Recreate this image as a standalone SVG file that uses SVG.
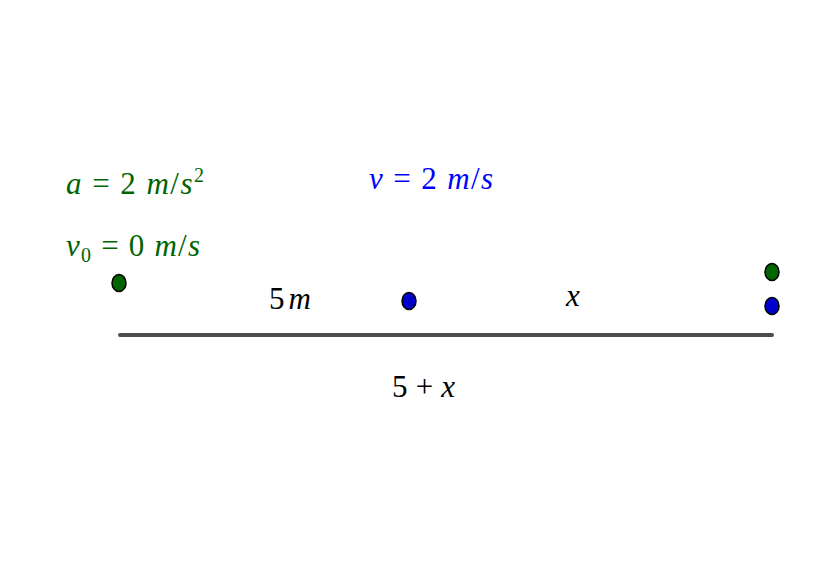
<svg xmlns="http://www.w3.org/2000/svg" width="840" height="561" viewBox="0 0 840 561">
<style>
.t{font-family:"Liberation Serif","DejaVu Serif",serif;font-size:31px}
.i{font-style:italic}
.g{fill:#006400}
.b{fill:#0000ff}
.k{fill:#000}
.pg{fill:#006400;stroke:#000;stroke-width:1.5}
.pb{fill:#0000cc;stroke:#000;stroke-width:1.5}
</style>
<rect width="840" height="561" fill="#fff"/>
<g id="connectors">
<line x1="120" y1="335" x2="772" y2="335" stroke="#4d4d4d" stroke-width="4" stroke-linecap="round"/>
</g>
<g id="label-a"><text class="t g" x="66" y="194" textLength="138" lengthAdjust="spacing"><tspan class="i">a</tspan> = 2 <tspan class="i">m</tspan>/<tspan class="i">s</tspan><tspan font-size="20" dy="-12">2</tspan></text></g>
<g id="label-v0"><text class="t g" x="66" y="256" textLength="134" lengthAdjust="spacing"><tspan class="i">v</tspan><tspan font-size="20" dy="6">0</tspan><tspan dy="-6"> = 0 </tspan><tspan class="i">m</tspan>/<tspan class="i">s</tspan></text></g>
<g id="label-v"><text class="t b" x="369" y="189" textLength="124" lengthAdjust="spacing"><tspan class="i">v</tspan> = 2 <tspan class="i">m</tspan>/<tspan class="i">s</tspan></text></g>
<g id="label-5m"><text class="t k" x="269" y="309" textLength="42" lengthAdjust="spacing">5 <tspan class="i">m</tspan></text></g>
<g id="label-x"><text class="t k i" x="566" y="306">x</text></g>
<g id="label-5x"><text class="t k" x="392" y="397" textLength="63" lengthAdjust="spacing">5 + <tspan class="i">x</tspan></text></g>
<g id="green-start"><ellipse class="pg" cx="119" cy="283" rx="7" ry="8.5"/></g>
<g id="blue-start"><ellipse class="pb" cx="409" cy="301" rx="7" ry="8.5"/></g>
<g id="green-end"><ellipse class="pg" cx="772" cy="272" rx="7" ry="8.5"/></g>
<g id="blue-end"><ellipse class="pb" cx="772" cy="306" rx="7" ry="8.5"/></g>
</svg>
